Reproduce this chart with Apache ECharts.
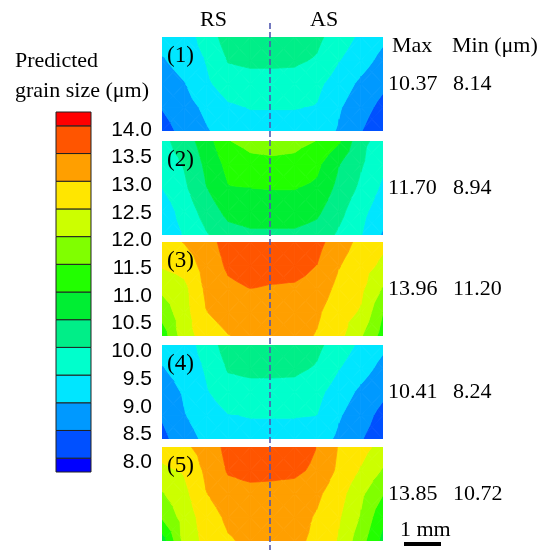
<!DOCTYPE html>
<html>
<head>
<meta charset="utf-8">
<script src="https://cdn.jsdelivr.net/npm/echarts@6/dist/echarts.min.js"></script>
<style>
  html, body { margin: 0; padding: 0; background: #fff; }
  #chart { width: 551px; height: 550px; }
</style>
</head>
<body>
<div id="chart"></div>
<script>
// Contour levels (µm) and the fill colour of each band, low to high
const levels = [8.0, 8.5, 9.0, 9.5, 10.0, 10.5, 11.0, 11.5, 12.0, 12.5, 13.0, 13.5, 14.0];
const tickLabels = ['8.0', '8.5', '9.0', '9.5', '10.0', '10.5', '11.0', '11.5', '12.0', '12.5', '13.0', '13.5', '14.0'];
const bandColors = ['#0000ff', '#0050ff', '#0099ff', '#00e6ff', '#00ffcc', '#00ee88', '#00ee33',
                    '#22ff00', '#80ff00', '#ccff00', '#ffe600', '#ff9f00', '#ff5500', '#ff0000'];

const panelNames = ['(1)', '(2)', '(3)', '(4)', '(5)'];

// Nodal grain size (µm): rows top to bottom, columns RS side to AS side
const grain1 = [
  [9.20, 9.25, 9.70, 10.25, 10.32, 10.37, 10.30, 10.12, 9.75, 9.40, 9.10],
  [8.95, 9.20, 9.52, 10.03, 10.10, 10.10, 10.08, 9.95, 9.52, 9.20, 8.85],
  [8.75, 8.97, 9.40, 9.75, 9.80, 9.80, 9.80, 9.62, 9.25, 8.90, 8.60],
  [8.52, 8.80, 9.10, 9.42, 9.52, 9.52, 9.52, 9.47, 9.05, 8.70, 8.35],
  [8.30, 8.65, 8.95, 9.20, 9.30, 9.30, 9.30, 9.25, 8.95, 8.52, 8.14]
];
const grain2 = [
  [9.85, 10.25, 10.75, 11.48, 11.65, 11.70, 11.65, 11.49, 11.08, 10.10, 9.85],
  [9.75, 10.03, 10.60, 11.15, 11.35, 11.38, 11.35, 11.12, 10.52, 10.05, 9.60],
  [9.50, 9.90, 10.48, 10.97, 11.00, 11.02, 11.02, 10.90, 10.35, 9.90, 9.40],
  [9.20, 9.70, 10.20, 10.65, 10.75, 10.75, 10.75, 10.60, 10.15, 9.65, 9.20],
  [9.15, 9.53, 9.95, 10.30, 10.40, 10.40, 10.40, 10.30, 9.92, 9.52, 8.94]
];
const grain3 = [
  [12.80, 13.02, 13.30, 13.70, 13.90, 13.96, 13.90, 13.65, 13.25, 12.85, 12.60],
  [12.55, 12.70, 13.20, 13.58, 13.70, 13.70, 13.70, 13.50, 13.03, 12.70, 12.40],
  [12.10, 12.35, 13.10, 13.40, 13.50, 13.45, 13.42, 13.30, 12.85, 12.60, 11.95],
  [11.70, 12.30, 12.98, 13.25, 13.30, 13.30, 13.25, 13.08, 12.70, 12.45, 11.50],
  [11.20, 12.30, 12.70, 12.98, 13.15, 13.20, 13.15, 12.97, 12.65, 12.05, 11.30]
];
const grain4 = [
  [9.20, 9.25, 9.70, 10.25, 10.35, 10.41, 10.35, 10.12, 9.75, 9.40, 9.10],
  [8.97, 9.20, 9.55, 10.05, 10.12, 10.12, 10.10, 9.95, 9.52, 9.20, 8.85],
  [8.75, 9.05, 9.45, 9.78, 9.82, 9.82, 9.82, 9.65, 9.25, 8.90, 8.60],
  [8.55, 8.97, 9.25, 9.48, 9.52, 9.52, 9.52, 9.50, 9.05, 8.70, 8.35],
  [8.35, 8.80, 9.10, 9.30, 9.35, 9.35, 9.35, 9.25, 8.90, 8.53, 8.24]
];
const grain5 = [
  [12.70, 12.90, 13.20, 13.65, 13.80, 13.85, 13.75, 13.50, 12.97, 12.70, 12.30],
  [12.40, 12.55, 13.10, 13.55, 13.65, 13.62, 13.60, 13.40, 12.90, 12.45, 11.95],
  [11.95, 12.35, 12.98, 13.30, 13.35, 13.35, 13.30, 13.10, 12.70, 12.10, 11.52],
  [11.55, 12.20, 12.75, 13.10, 13.20, 13.20, 13.20, 12.95, 12.55, 11.95, 11.10],
  [10.72, 12.15, 12.65, 12.95, 13.10, 13.12, 13.10, 12.90, 12.45, 11.70, 10.85]
];
const panels = [grain1, grain2, grain3, grain4, grain5];

// ---- layout ----
const panelLeft = 162, panelWidth = 221, panelHeight = 94;
const panelTops = [37, 141, 242, 345, 447];
const serif = '"Liberation Serif", "Times New Roman", serif';
const sans = '"Liberation Sans", Arial, sans-serif';

// Keep the part of a polygon where sign * (value - level) >= 0 (linear along edges)
function clipPoly(poly, level, sign) {
  if (!isFinite(level) || poly.length === 0) return poly;
  const out = [];
  for (let k = 0; k < poly.length; k++) {
    const a = poly[k], b = poly[(k + 1) % poly.length];
    const da = sign * (a[1] - level), db = sign * (b[1] - level);
    if (da >= 0) out.push(a);
    if ((da >= 0) !== (db >= 0)) {
      const t = da / (da - db);
      out.push([[a[0][0] + t * (b[0][0] - a[0][0]), a[0][1] + t * (b[0][1] - a[0][1])], level]);
    }
  }
  return out;
}

// Filled-contour renderer for one mesh cell (split into four triangles)
function makeCellRenderer(grid) {
  return function (params, api) {
    const i = api.value(0), j = api.value(1);
    const v00 = grid[j][i], v10 = grid[j][i + 1], v01 = grid[j + 1][i], v11 = grid[j + 1][i + 1];
    const p00 = api.coord([i, j]), p10 = api.coord([i + 1, j]);
    const p01 = api.coord([i, j + 1]), p11 = api.coord([i + 1, j + 1]);
    const pc = [(p00[0] + p11[0]) / 2, (p00[1] + p11[1]) / 2];
    const vc = (v00 + v10 + v01 + v11) / 4;
    const tris = [
      [[p00, v00], [p10, v10], [pc, vc]],
      [[p10, v10], [p11, v11], [pc, vc]],
      [[p11, v11], [p01, v01], [pc, vc]],
      [[p01, v01], [p00, v00], [pc, vc]]
    ];
    const children = [];
    tris.forEach(function (tri) {
      for (let b = 0; b < bandColors.length; b++) {
        const lo = b === 0 ? -Infinity : levels[b - 1];
        const hi = b === levels.length ? Infinity : levels[b];
        let poly = clipPoly(tri, lo, 1);
        poly = clipPoly(poly, hi, -1);
        if (poly.length >= 3) {
          children.push({
            type: 'polygon',
            shape: { points: poly.map(function (q) { return q[0]; }) },
            style: { fill: bandColors[b], stroke: bandColors[b], lineWidth: 0.8 }
          });
        }
      }
    });
    return { type: 'group', children: children };
  };
}

const grids = [], xAxes = [], yAxes = [], series = [];
panels.forEach(function (grid, p) {
  grids.push({ left: panelLeft, top: panelTops[p], width: panelWidth, height: panelHeight });
  xAxes.push({ gridIndex: p, type: 'value', min: 0, max: grid[0].length - 1, show: false });
  yAxes.push({ gridIndex: p, type: 'value', min: 0, max: grid.length - 1, inverse: true, show: false });
  const cells = [];
  for (let j = 0; j < grid.length - 1; j++) {
    for (let i = 0; i < grid[0].length - 1; i++) cells.push([i, j]);
  }
  series.push({
    type: 'custom', xAxisIndex: p, yAxisIndex: p, clip: true, silent: true,
    encode: { x: 0, y: 1 }, data: cells, renderItem: makeCellRenderer(grid)
  });
});

// Colour bar: half-height end bands below 8.0 and above 14.0
const cb = grids.length;
grids.push({ left: 56, top: 112, width: 35, height: 360 });
xAxes.push({ gridIndex: cb, type: 'value', min: 0, max: 1, show: false });
yAxes.push({
  gridIndex: cb, type: 'value', min: 7.75, max: 14.25, position: 'right',
  axisLine: { show: false }, axisTick: { show: false }, splitLine: { show: false },
  axisLabel: {
    customValues: levels,
    formatter: function (v) {
      const k = levels.findIndex(function (l) { return Math.abs(l - v) < 1e-6; });
      return k >= 0 ? '{t|' + tickLabels[k] + '}' : '';
    },
    align: 'right', margin: 61,
    rich: { t: { color: '#000', fontSize: 21, fontFamily: sans, padding: [8, 0, 0, 0] } }
  }
});
const bandData = bandColors.map(function (c, b) {
  const lo = b === 0 ? 7.75 : levels[b - 1];
  const hi = b === levels.length ? 14.25 : levels[b];
  return [0, lo, hi, b];
});
series.push({
  type: 'custom', xAxisIndex: cb, yAxisIndex: cb, silent: true,
  encode: { x: 0, y: [1, 2] }, data: bandData,
  renderItem: function (params, api) {
    const top = api.coord([0, api.value(2)]);
    const bot = api.coord([1, api.value(1)]);
    const b = api.value(3);
    return {
      type: 'rect',
      shape: { x: top[0], y: top[1], width: bot[0] - top[0], height: bot[1] - top[1] },
      style: { fill: bandColors[b], stroke: '#222', lineWidth: 1 }
    };
  }
});

// Text and annotations
function txt(x, y, text, font, align) {
  return { type: 'text', x: x, y: y, z: 50, silent: true,
    style: { text: text, font: font, fill: '#000', align: align || 'left', verticalAlign: 'middle' } };
}
const graphic = [
  txt(15, 61, 'Predicted', '22px ' + serif),
  txt(15, 91, 'grain size (\u03bcm)', '22px ' + serif),
  txt(200, 20, 'RS', '22px ' + serif),
  txt(310, 20, 'AS', '22px ' + serif),
  txt(392, 46, 'Max', '22px ' + serif),
  txt(452, 46, 'Min (\u03bcm)', '22px ' + serif),
  txt(400, 530, '1 mm', '22px ' + serif),
  { type: 'rect', silent: true, z: 50, shape: { x: 404, y: 542, width: 37, height: 4 }, style: { fill: '#000' } },
  { type: 'line', silent: true, z: 60, shape: { x1: 270, y1: 23, x2: 270, y2: 550 },
    style: { stroke: '#5058b0', lineWidth: 1.6, lineDash: [6, 3] } }
];
panels.forEach(function (grid, p) {
  const flat = grid.flat();
  const cy = panelTops[p] + panelHeight / 2;
  graphic.push(txt(167, panelTops[p] + 19, panelNames[p], '23px ' + serif));
  graphic.push(txt(388, cy, Math.max.apply(null, flat).toFixed(2), '22px ' + serif));
  graphic.push(txt(453, cy, Math.min.apply(null, flat).toFixed(2), '22px ' + serif));
});

const chart = echarts.init(document.getElementById('chart'), null, { renderer: 'canvas' });
chart.setOption({
  animation: false,
  backgroundColor: '#fff',
  grid: grids, xAxis: xAxes, yAxis: yAxes, series: series, graphic: graphic
});
</script>
</body>
</html>
